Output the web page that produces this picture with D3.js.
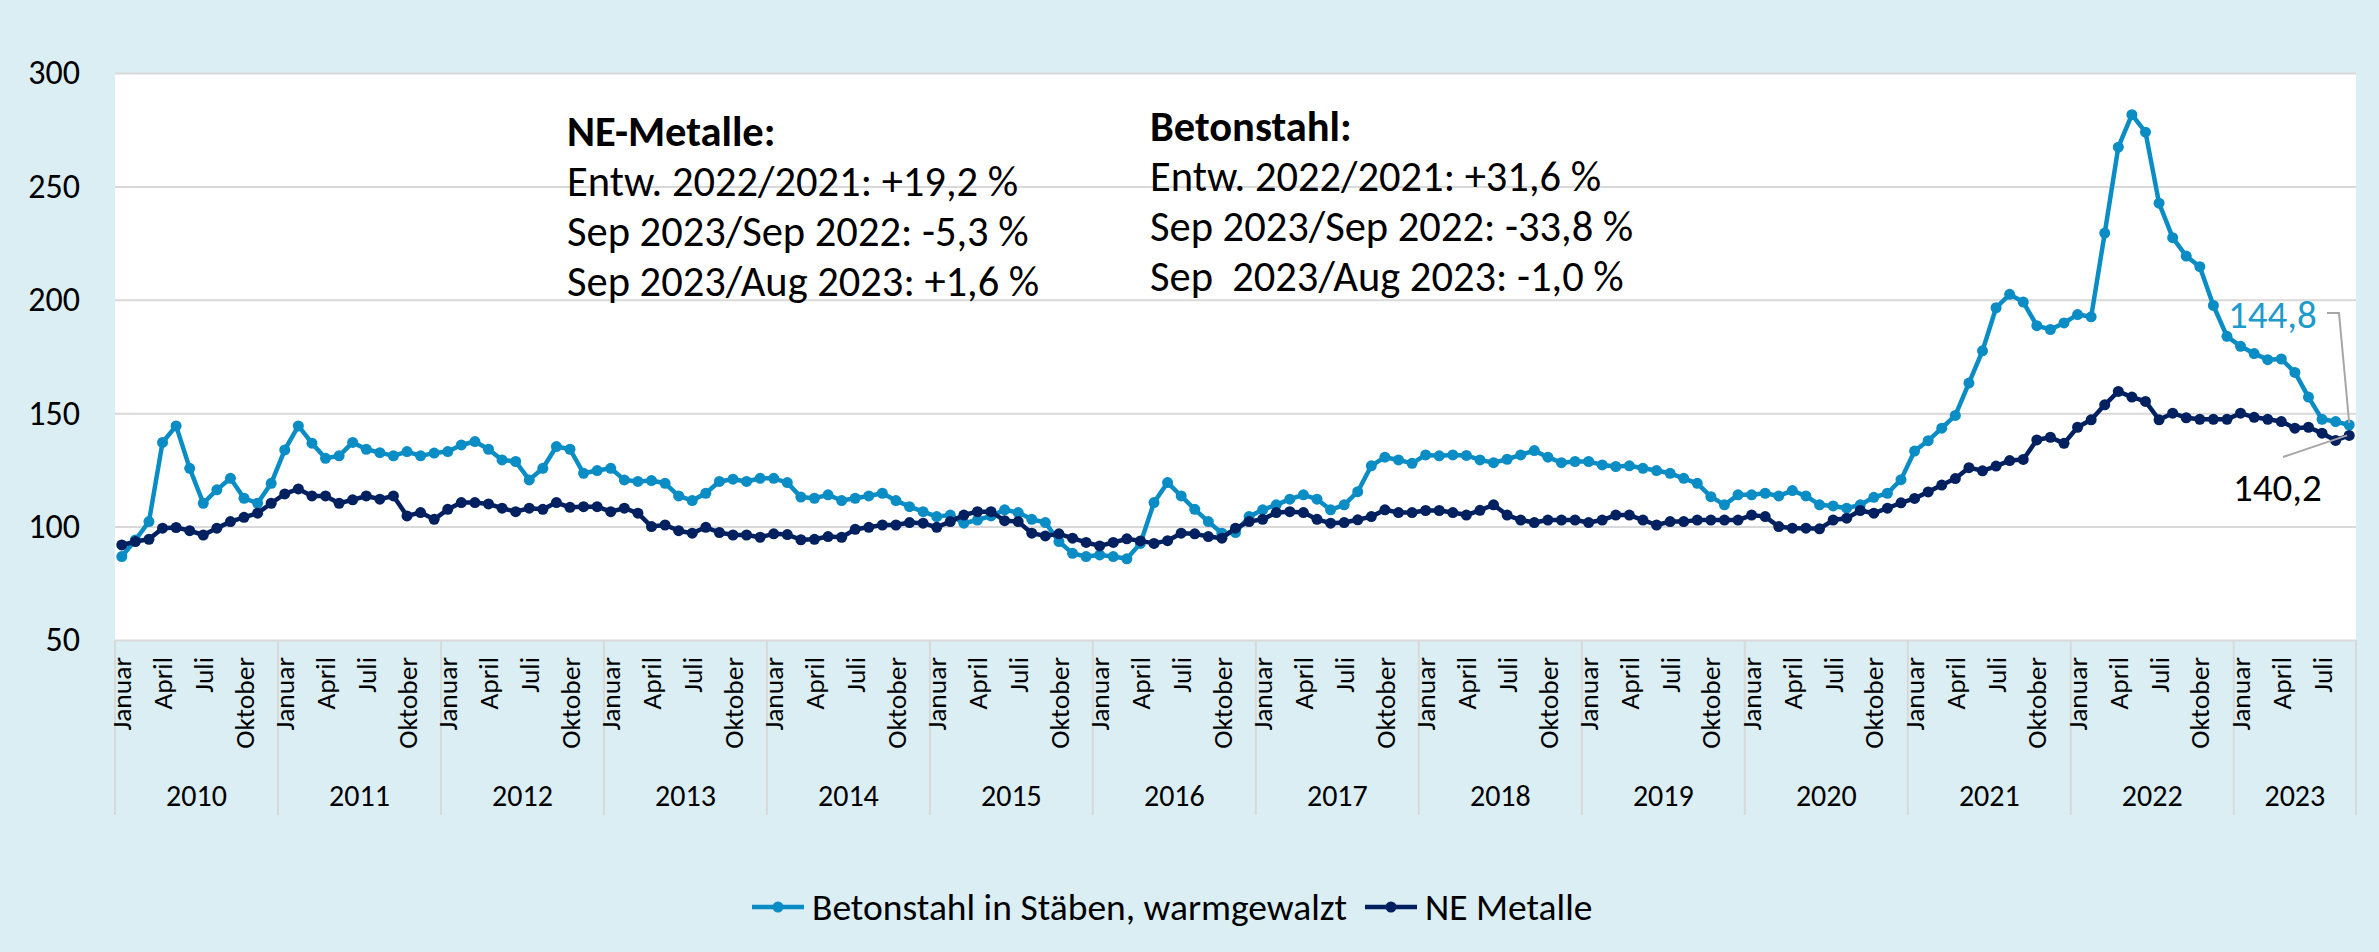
<!DOCTYPE html>
<html>
<head>
<meta charset="utf-8">
<script src="https://cdn.jsdelivr.net/npm/d3@7"></script>
<style>
  body { margin: 0; background: #DAEEF3; }
  text { font-family: Carlito, Calibri, Lato, sans-serif; fill: #000; }
</style>
</head>
<body>
<div id="chart"></div>
<script>
// monthly index values, Jan 2010 - Sep 2023
var years = ["2010","2011","2012","2013","2014","2015","2016","2017","2018","2019","2020","2021","2022","2023"];
var monthNames = ["Januar","Februar","März","April","Mai","Juni","Juli","August","September","Oktober","November","Dezember"];
var yTicks = [50, 100, 150, 200, 250, 300];

var betonstahl = [
  86.8, 94.1, 102.2, 137.1, 144.4, 125.7, 110.3, 116.2, 121.3, 112.5, 110.3, 119.1,
  133.8, 144.4, 136.8, 130.1, 131.2, 137.1, 134.1, 132.6, 131.2, 133.1, 131.2, 132.4,
  133.1, 136.0, 137.5, 134.1, 129.4, 128.7, 120.6, 125.7, 135.3, 134.1, 123.5, 124.7,
  125.7, 120.6, 119.9, 120.3, 119.1, 113.5, 111.5, 114.7, 119.9, 120.9, 119.9, 121.3,
  121.3, 119.4, 113.0, 112.5, 114.0, 111.5, 112.5, 113.5, 114.7, 111.5, 108.8, 106.6,
  104.4, 105.1, 101.5, 102.9, 104.7, 107.4, 106.2, 103.2, 101.8, 93.4, 88.2, 86.8,
  87.5, 86.8, 85.8, 92.6, 110.6, 119.4, 113.5, 107.6, 102.2, 97.1, 97.4, 104.4,
  107.4, 109.6, 112.1, 114.0, 112.1, 107.4, 109.6, 115.4, 126.8, 130.6, 129.4, 127.9,
  131.6, 131.2, 131.6, 131.4, 129.4, 128.2, 129.7, 131.6, 133.5, 130.6, 128.2, 128.7,
  128.7, 127.2, 126.5, 126.8, 125.7, 124.7, 123.5, 121.3, 119.1, 113.2, 109.6, 114.0,
  114.0, 114.7, 113.5, 115.9, 113.5, 109.6, 109.1, 108.1, 109.6, 112.9, 114.7, 120.7,
  133.3, 137.9, 143.4, 149.0, 163.3, 177.5, 196.5, 202.4, 199.0, 188.6, 186.9, 189.8,
  193.5, 192.5, 229.4, 267.3, 281.6, 273.9, 242.6, 227.4, 219.3, 214.6, 197.5, 183.9,
  179.5, 176.3, 173.6, 173.9, 168.0, 157.1, 147.3, 146.3, 144.8
];

var neMetalle = [
  91.9, 93.4, 94.4, 99.3, 99.6, 98.2, 96.3, 99.3, 102.2, 104.1, 105.9, 110.3,
  114.4, 116.6, 113.5, 113.5, 110.3, 111.8, 113.5, 112.1, 113.5, 104.7, 106.2, 103.2,
  107.6, 110.6, 110.6, 110.0, 108.1, 106.6, 108.1, 107.6, 110.6, 108.5, 108.8, 108.8,
  106.6, 108.1, 105.9, 100.0, 100.7, 98.2, 97.1, 99.7, 97.4, 96.3, 96.3, 95.3,
  96.8, 96.5, 94.2, 94.4, 95.6, 95.3, 98.8, 99.7, 100.7, 100.7, 101.8, 101.5,
  99.7, 102.2, 105.1, 106.6, 106.6, 102.6, 102.2, 97.1, 95.9, 96.8, 94.9, 93.0,
  91.5, 93.0, 94.6, 93.7, 92.6, 93.8, 97.1, 96.8, 95.6, 94.9, 99.3, 102.2,
  103.2, 106.2, 106.6, 106.2, 103.2, 101.5, 101.8, 103.0, 104.4, 107.4, 106.2, 106.2,
  107.1, 107.1, 106.2, 105.1, 107.2, 109.6, 105.1, 102.9, 101.8, 102.9, 102.9, 102.9,
  101.8, 102.9, 105.1, 105.1, 102.9, 100.7, 102.2, 102.2, 102.9, 102.9, 102.9, 102.9,
  105.1, 104.4, 100.0, 99.3, 99.3, 99.0, 102.9, 103.7, 107.1, 105.9, 108.1, 110.5,
  112.4, 115.3, 118.3, 121.2, 126.0, 124.6, 126.7, 129.1, 129.6, 138.2, 139.4, 136.7,
  143.8, 147.1, 153.7, 159.6, 157.1, 155.2, 147.1, 150.0, 148.0, 147.3, 147.3, 147.3,
  150.0, 148.2, 147.3, 146.3, 143.4, 143.8, 141.2, 138.0, 140.2
];

var seriesNames = ["Betonstahl in Stäben, warmgewalzt", "NE Metalle"];
var colBeton = "#0A8CC5";
var colNE = "#002060";

var svgWidth = 2379;
var svgHeight = 952;
var plot = {left: 115, right: 2356, top: 73, bottom: 640};

var svg = d3.select("#chart").append("svg")
    .attr("width", svgWidth).attr("height", svgHeight);

svg.append("rect").attr("width", svgWidth).attr("height", svgHeight).attr("fill", "#DAEEF3");
svg.append("rect")
    .attr("x", plot.left).attr("y", plot.top)
    .attr("width", plot.right - plot.left).attr("height", plot.bottom - plot.top)
    .attr("fill", "#fff");

var idx = d3.range(betonstahl.length);
var xScale = d3.scaleBand().domain(idx).range([plot.left, plot.right]).padding(0);
var bw = xScale.bandwidth();
var yScale = d3.scaleLinear().domain([50, 300]).range([plot.bottom, plot.top]);
function cx(i) { return xScale(i) + bw / 2; }

// gridlines + y labels
var yAxis = d3.axisLeft(yScale).tickValues(yTicks).tickSize(-(plot.right - plot.left)).tickPadding(35);
var gy = svg.append("g").attr("transform", `translate(${plot.left},0)`).call(yAxis);
gy.select(".domain").remove();
gy.selectAll(".tick line").attr("stroke", "#D9D9D9").attr("stroke-width", 2);
gy.selectAll(".tick text").attr("font-size", 34).attr("fill", "#000")
    .style("font-family", "Carlito, Calibri, Lato, sans-serif");

// category axis: months and year groups
var axisG = svg.append("g");
var yearEdges = d3.range(0, betonstahl.length, 12).map(function (i) { return xScale(i); });
yearEdges.push(plot.right);
axisG.selectAll("line.div")
    .data(yearEdges)
    .enter().append("line")
    .attr("x1", function (d) { return d; }).attr("x2", function (d) { return d; })
    .attr("y1", plot.bottom).attr("y2", 815)
    .attr("stroke", "#D9D9D9").attr("stroke-width", 2);

axisG.selectAll("text.month")
    .data(idx.filter(function (i) { return i % 3 === 0; }))
    .enter().append("text")
    .attr("class", "month")
    .attr("transform", function (i) { return `translate(${cx(i)},657)rotate(-90)`; })
    .attr("text-anchor", "end")
    .attr("dy", "0.35em")
    .attr("font-size", 27.5)
    .text(function (i) { return monthNames[i % 12]; });

axisG.selectAll("text.year")
    .data(years)
    .enter().append("text")
    .attr("class", "year")
    .attr("x", function (d, k) { return (yearEdges[k] + yearEdges[k + 1]) / 2; })
    .attr("y", 806)
    .attr("text-anchor", "middle")
    .attr("font-size", 30)
    .text(function (d) { return d; });

// lines
var line = d3.line()
    .x(function (d, i) { return cx(i); })
    .y(function (d) { return yScale(d); });

function drawSeries(values, color) {
  var g = svg.append("g");
  g.append("path").datum(values)
      .attr("fill", "none").attr("stroke", color)
      .attr("stroke-width", 4.5).attr("stroke-linejoin", "round")
      .attr("d", line);
  g.selectAll("circle").data(values).enter().append("circle")
      .attr("cx", function (d, i) { return cx(i); })
      .attr("cy", function (d) { return yScale(d); })
      .attr("r", 5.5)
      .attr("fill", color);
}
drawSeries(betonstahl, colBeton);
drawSeries(neMetalle, colNE);

// annotations
var notes = [
  {x: 567, y: 146, lines: ["NE-Metalle:", "Entw. 2022/2021: +19,2 %", "Sep 2023/Sep 2022: -5,3 %", "Sep 2023/Aug 2023: +1,6 %"]},
  {x: 1150, y: 141, lines: ["Betonstahl:", "Entw. 2022/2021: +31,6 %", "Sep 2023/Sep 2022: -33,8 %", "Sep  2023/Aug 2023: -1,0 %"]}
];
notes.forEach(function (n) {
  var t = svg.append("text").attr("x", n.x).attr("y", n.y).attr("font-size", 42.5)
      .attr("xml:space", "preserve").style("white-space", "pre");
  n.lines.forEach(function (s, k) {
    t.append("tspan").attr("x", n.x).attr("y", n.y + k * 50)
        .attr("font-weight", k === 0 ? "bold" : "normal")
        .text(s);
  });
});

// data labels for last values
var last = betonstahl.length - 1;
var xl = cx(last);
svg.append("polyline")
    .attr("points", [[2327, 313], [2339, 313], [xl, yScale(betonstahl[last]) - 2]].join(" "))
    .attr("fill", "none").attr("stroke", "#A6A6A6").attr("stroke-width", 2);
svg.append("text").attr("x", 2228).attr("y", 328).attr("font-size", 39)
    .style("fill", "#1E9ACB").text(d3.format(".1f")(betonstahl[last]).replace(".", ","));

svg.append("line")
    .attr("x1", 2283).attr("y1", 457).attr("x2", xl - 2).attr("y2", yScale(neMetalle[last]))
    .attr("stroke", "#A6A6A6").attr("stroke-width", 2);
svg.append("text").attr("x", 2233).attr("y", 501).attr("font-size", 39)
    .text(d3.format(".1f")(neMetalle[last]).replace(".", ","));

// legend
var legend = [
  {name: seriesNames[0], color: colBeton, x: 752},
  {name: seriesNames[1], color: colNE, x: 1365}
];
var lg = svg.append("g").selectAll("g").data(legend).enter().append("g")
    .attr("transform", function (d) { return `translate(${d.x},907)`; });
lg.append("line").attr("x1", 0).attr("x2", 52).attr("y1", 0).attr("y2", 0)
    .attr("stroke", function (d) { return d.color; }).attr("stroke-width", 4.5);
lg.append("circle").attr("cx", 26).attr("cy", 0).attr("r", 5.5)
    .attr("fill", function (d) { return d.color; });
lg.append("text").attr("x", 60).attr("y", 0).attr("dy", "0.35em").attr("font-size", 37.5)
    .text(function (d) { return d.name; });
</script>
</body>
</html>
